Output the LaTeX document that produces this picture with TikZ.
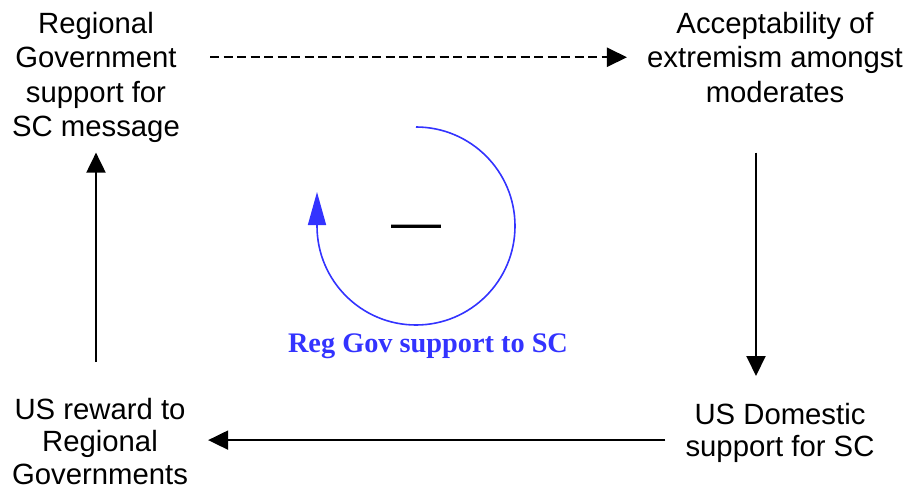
\documentclass[tikz,border=0pt]{standalone}
\usepackage{fontspec}
\setmainfont{Liberation Sans}
\newfontfamily\serifbf{Liberation Serif}
\usepackage{tikz}
\usetikzlibrary{arrows.meta,positioning,calc}
\usepackage{xcolor}
\definecolor{loopblue}{HTML}{3333FF}

\begin{document}
\begin{tikzpicture}[
  x=1pt,y=1pt,
  var/.style={inner sep=0pt,anchor=north,align=center,
              font=\fontsize{29.3}{34.3}\selectfont},
  varlow/.style={var,font=\fontsize{29.3}{32.5}\selectfont},
  arr/.style={-{Triangle[length=20pt,width=19pt]},line width=2pt},
  dasharr/.style={arr,dash pattern=on 9pt off 4.5pt},
  loopline/.style={loopblue,line width=1.6pt,
                   -{Triangle[length=33pt,width=18pt]}}
]
  \useasboundingbox (0,0) rectangle (907,-492);

  \node[var](reggov) at (96,-12){Regional\\Government\\support for\\SC message};
  \node[var](accept) at (775,-12){Acceptability of\\extremism amongst\\moderates};
  \node[varlow](usdom) at (780,-403){US Domestic\\support for SC};
  \node[varlow](usreward) at (100,-398){US reward to\\Regional\\Governments};

  \draw[dasharr,shorten <=30pt,shorten >=20pt]
       (reggov.east |- accept.west)--(accept.west);
  \draw[arr,shorten <=50pt,shorten >=27pt]
       ([xshift=-19pt]accept.south)--([xshift=-19pt]accept.south |- usdom.north);
  \draw[arr,shorten <=20pt,shorten >=20pt]
       ([yshift=-7pt]usdom.west)--([yshift=-7pt]usdom.west -| usreward.east);
  \draw[arr,shorten <=36pt,shorten >=10pt]
       (reggov.south |- usreward.north)--(reggov.south);

  % loop polarity
  \coordinate (loopc) at (416,-226);
  \draw[loopline] ([yshift=99pt]loopc) arc[start angle=90,end angle=-180,radius=99]
       --++(0,34);
  \node[inner sep=0pt,anchor=base,font=\fontsize{50}{60}\selectfont]
       (sign) at ([yshift=-13pt]loopc){—};
  \node[inner sep=0pt,anchor=base,text=loopblue,
        font=\serifbf\bfseries\fontsize{28.3}{34}\selectfont]
       (looplabel) at (428,-352){Reg Gov support to SC};
\end{tikzpicture}
\end{document}
